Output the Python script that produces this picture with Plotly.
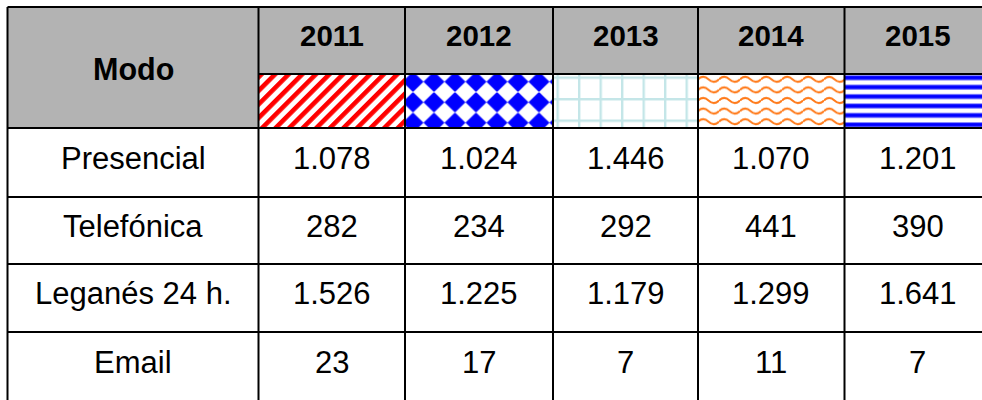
import base64
import plotly.graph_objects as go

# datos
years = ["2011", "2012", "2013", "2014", "2015"]
modes = ["Presencial", "Telefónica", "Leganés 24 h.", "Email"]
v2011 = [1078, 282, 1526, 23]
v2012 = [1024, 234, 1225, 17]
v2013 = [1446, 292, 1179, 7]
v2014 = [1070, 441, 1299, 11]
v2015 = [1201, 390, 1641, 7]
values = [v2011, v2012, v2013, v2014, v2015]

# geometria de la tabla (px)
col_edges = [7.5, 258.5, 405, 553, 698, 844.5, 991]
row_edges = [7, 74, 128, 197, 264, 332, 402]
GRAY = "#b3b3b3"
FONT = "Arial, Liberation Sans, sans-serif"


def fmt(v):
    return f"{v:,}".replace(",", ".")


def svg_uri(w, h, defs):
    svg = (f'<svg xmlns="http://www.w3.org/2000/svg" width="{w}" height="{h}">'
           f'<defs>{defs}</defs>'
           f'<rect width="{w}" height="{h}" fill="white"/>'
           f'<rect width="{w}" height="{h}" fill="url(#p)"/></svg>')
    return "data:image/svg+xml;base64," + base64.b64encode(svg.encode()).decode()


patterns = [
    # rayas rojas diagonales
    '<pattern id="p" width="9.6" height="9.6" patternUnits="userSpaceOnUse" '
    'patternTransform="rotate(45)"><rect x="0" y="0" width="4.6" height="9.6" fill="#ff0000"/></pattern>',
    # rombos azules
    '<pattern id="p" width="21" height="20.5" patternUnits="userSpaceOnUse" x="-2.5" y="-2.5">'
    '<polygon points="10.5,1 20,10.25 10.5,19.5 1,10.25" fill="#0000ff" stroke="#0000ff" '
    'stroke-width="1.5" stroke-linejoin="round"/></pattern>',
    # cuadricula celeste
    '<pattern id="p" width="21.5" height="21.5" patternUnits="userSpaceOnUse" x="3.5" y="2.5">'
    '<path d="M1.2 0 V21.5 M0 1.2 H21.5" stroke="#c4e6e8" stroke-width="2.4" fill="none"/></pattern>',
    # ondas naranjas
    '<pattern id="p" width="21" height="10.6" patternUnits="userSpaceOnUse" x="0" y="0">'
    '<path d="M0 5.3 Q5.25 0.3 10.5 5.3 T21 5.3" stroke="#ff7a1a" stroke-width="2" fill="none"/></pattern>',
    # rayas azules horizontales
    '<pattern id="p" width="20" height="9.4" patternUnits="userSpaceOnUse" x="0" y="1">'
    '<rect x="0" y="0" width="20" height="1" fill="#8c8cff"/>'
    '<rect x="0" y="1" width="20" height="3.6" fill="#0000ff"/>'
    '<rect x="0" y="4.6" width="20" height="1" fill="#8c8cff"/></pattern>',
]

fig = go.Figure()
# traza invisible para fijar los ejes
fig.add_trace(go.Scatter(x=[0, 982], y=[0, 400], mode="markers",
                         marker=dict(opacity=0), hoverinfo="skip", showlegend=False))

shapes = []
# cabecera gris
shapes.append(dict(type="rect", xref="x", yref="y", x0=col_edges[0], x1=col_edges[1],
                   y0=row_edges[0], y1=row_edges[2], fillcolor=GRAY, line_width=0, layer="below"))
shapes.append(dict(type="rect", xref="x", yref="y", x0=col_edges[1], x1=col_edges[-1],
                   y0=row_edges[0], y1=row_edges[1], fillcolor=GRAY, line_width=0, layer="below"))

images = []
for i, pat in enumerate(patterns):
    x0, x1 = col_edges[i + 1], col_edges[i + 2]
    y0, y1 = row_edges[1], row_edges[2]
    w, h = x1 - x0, y1 - y0
    images.append(dict(source=svg_uri(w, h, pat), xref="x", yref="y", x=x0, y=y0,
                       sizex=w, sizey=h, xanchor="left", yanchor="top",
                       sizing="stretch", layer="below"))

line = dict(color="black", width=2)
# lineas horizontales
for k, y in enumerate(row_edges[:-1]):
    xs = col_edges[1] if k == 1 else col_edges[0]
    shapes.append(dict(type="line", xref="x", yref="y", x0=xs, x1=col_edges[-1],
                       y0=y, y1=y, line=line))
# lineas verticales
for x in col_edges[:-1]:
    shapes.append(dict(type="line", xref="x", yref="y", x0=x, x1=x,
                       y0=row_edges[0], y1=row_edges[-1], line=line))

annotations = []
cx = [(col_edges[i] + col_edges[i + 1]) / 2 for i in range(len(col_edges) - 1)]
cy = [(row_edges[i] + row_edges[i + 1]) / 2 for i in range(len(row_edges) - 1)]

annotations.append(dict(x=cx[0], y=(row_edges[0] + row_edges[2]) / 2, xref="x", yref="y",
                        text="<b>Modo</b>", showarrow=False, yshift=-1.5,
                        font=dict(family=FONT, size=30.5, color="black")))
for j, yr in enumerate(years):
    annotations.append(dict(x=cx[j + 1], y=cy[0], xref="x", yref="y", text=f"<b>{yr}</b>",
                            showarrow=False, yshift=5,
                            font=dict(family=FONT, size=29.5, color="black")))
for r, m in enumerate(modes):
    annotations.append(dict(x=cx[0], y=cy[r + 2], xref="x", yref="y", text=m,
                            showarrow=False, yshift=4.5,
                            font=dict(family=FONT, size=31, color="black")))
    for j in range(len(years)):
        annotations.append(dict(x=cx[j + 1], y=cy[r + 2], xref="x", yref="y",
                                text=fmt(values[j][r]), showarrow=False, yshift=4.5,
                                font=dict(family=FONT, size=31, color="black")))

fig.update_layout(
    width=982, height=400, autosize=False,
    margin=dict(l=0, r=0, t=0, b=0),
    paper_bgcolor="white", plot_bgcolor="white",
    xaxis=dict(range=[0, 982], visible=False, fixedrange=True),
    yaxis=dict(range=[400, 0], visible=False, fixedrange=True),
    shapes=shapes, images=images, annotations=annotations,
    showlegend=False,
)

fig.write_html("out.html", config={"displayModeBar": False},
               post_script="document.body.style.margin='0';")
